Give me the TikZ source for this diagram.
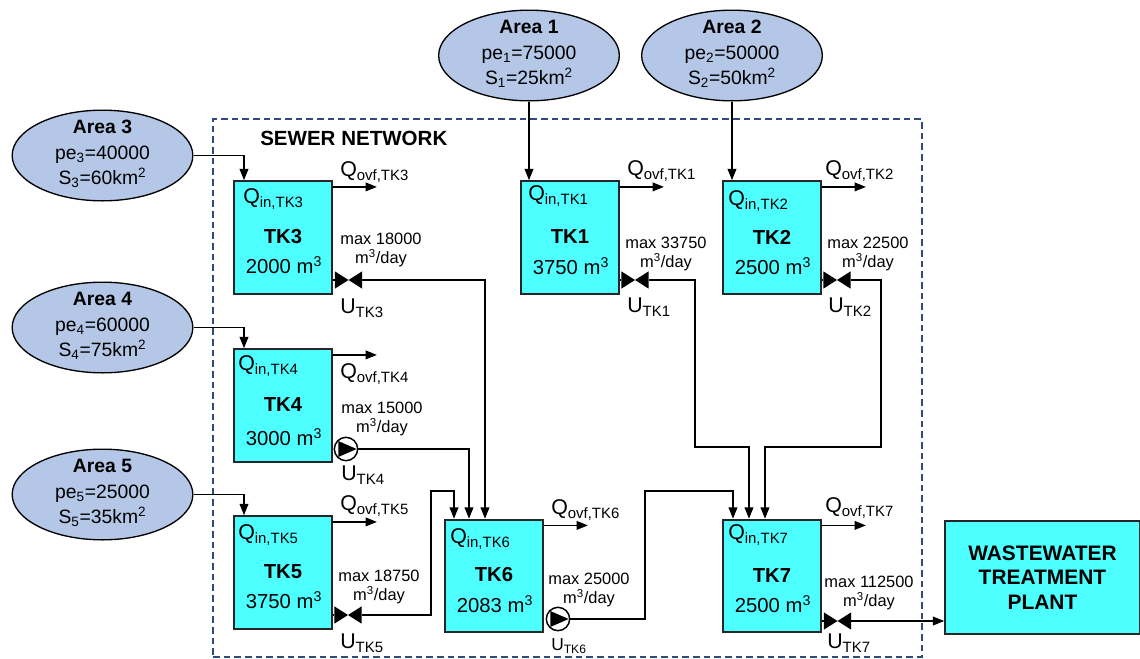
\documentclass[tikz,border=0pt]{standalone}
\usepackage{fontspec}
\setmainfont{Liberation Sans}
\usetikzlibrary{arrows.meta, calc, shapes.geometric}

\newcommand{\subs}[1]{\textsubscript{#1}}
\newcommand{\sups}[1]{\textsuperscript{#1}}

\definecolor{tankcyan}{HTML}{4DFFFF}
\definecolor{areablue}{HTML}{B4C7E7}
\definecolor{netblue}{HTML}{2F4B7C}

\tikzset{
  tank/.style={draw=black!85, line width=1.4pt, fill=tankcyan, inner sep=0pt, minimum width=73.5pt, minimum height=84.5pt},
  area/.style={ellipse, draw=black, line width=1pt, fill=areablue, inner sep=0pt, minimum width=135.5pt, minimum height=68pt},
  areatext/.style={align=center, inner sep=0pt, font=\fontsize{14.5}{19}\selectfont},
  flow/.style={-{Triangle[length=8.5pt,width=6.5pt]}, line width=1.2pt},
  stub/.style={line width=1.2pt},
  valve/.style={inner sep=0pt, minimum width=20.5pt, minimum height=13pt, path picture={
    \fill[black] (path picture bounding box.north west) -- (path picture bounding box.south east)
      -- (path picture bounding box.north east) -- (path picture bounding box.south west) -- cycle;}},
  pump/.style={circle, draw=black, line width=1.1pt, fill=white, inner sep=0pt, minimum size=17.5pt, path picture={
    \fill[black] ($(path picture bounding box.center)+(-5.8pt,6pt)$) -- ($(path picture bounding box.center)+(8pt,0pt)$)
      -- ($(path picture bounding box.center)+(-5.8pt,-6pt)$) -- cycle;}},
  lab/.style={anchor=west, inner sep=0pt, font=\fontsize{16}{18}\selectfont},
  maxlab/.style={align=center, inner sep=0pt, font=\fontsize{12.3}{14}\selectfont},
  tanklab/.style={inner sep=0pt, font=\fontsize{15.2}{18}\selectfont},
}

\begin{document}
\begin{tikzpicture}[x=0.75pt, y=-0.75pt]
  \useasboundingbox (0,0) rectangle (1140,658);
  % Network frame
  \node[draw=netblue, line width=0.8pt, dash pattern=on 5pt off 3pt, inner sep=0pt, minimum width=531.75pt, minimum height=403.5pt] (network) at (567.5,388) {};
  \node[anchor=west, inner sep=0pt, font=\fontsize{15.4}{18}\selectfont\bfseries] (nettitle) at (260,138) {SEWER NETWORK};
  % Areas
  \foreach \nm/\x/\y/\ty/\pe/\sz in {1/529/55.5/54/75000/25, 2/732/55.5/54/50000/50, 3/102.5/155.5/154/40000/60, 4/102.5/327.5/326/60000/75, 5/102.5/494.5/493/25000/35}{
    \node[area] (area\nm) at (\x,\y) {};
    \node[areatext] (areatext\nm) at (\x,\ty) {\textbf{Area \nm}\\pe\subs{\nm}=\pe\\S\subs{\nm}=\sz km\sups{2}};
  }
  % Tanks
  \foreach \nm/\x/\y/\ty/\vy/\vol in {TK3/283/237.5/237/265/2000, TK1/570/237.5/237/266/3750, TK2/772/237.5/237/266/2500, TK4/283/405.5/405/437/3000, TK5/283/572.5/572/600/3750, TK6/494/576/575/604/2083, TK7/772/576/576/604/2500}{
    \node[tank] (\nm) at (\x,\y) {};
    \node[tanklab, font=\fontsize{15.2}{18}\selectfont\bfseries] (name\nm) at (\x,\ty) {\nm};
    \node[tanklab] (vol\nm) at (\x+1,\vy) {\vol{} m\sups{3}};
    \coordinate (ovf\nm) at ($(\nm.north east)+(33pt,-5pt)$);
    \draw[flow] ($(\nm.north east)+(0,-5pt)$) -- (ovf\nm);
  }
  % Plant
  \node[tank, minimum width=146pt, align=center, font=\fontsize{15.7}{18.4}\selectfont\bfseries] (plant) at (1042.5,577.5) {WASTEWATER\\TREATMENT\\PLANT};
  % Inflow labels
  \foreach \nm/\x/\y in {TK3/243/199, TK1/528/196, TK2/728/201, TK4/238/366, TK5/238/535, TK6/450/539, TK7/728/535}{
    \node[lab] (in\nm) at (\x,\y) {Q\subs{in,\nm}};
  }
  % Overflow labels
  \foreach \nm/\x/\y in {TK3/340/172, TK1/627/171, TK2/825/171, TK4/340/374, TK5/340/506, TK6/551/510, TK7/825/508}{
    \node[lab] (qovf\nm) at (\x,\y) {Q\subs{ovf,\nm}};
  }
  % Valves and pumps
  \foreach \nm/\x/\y in {TK3/348.5/280, TK1/635/280, TK2/837/280, TK5/348/615, TK7/837.5/621}{
    \node[valve] (u\nm) at (\x,\y) {};
    \draw[stub] (u\nm.west -| \nm.east) -- (u\nm.west);
  }
  \foreach \nm/\x/\y in {TK4/346/449, TK6/558/619}{
    \node[pump] (u\nm) at (\x,\y) {};
  }
  % Actuator labels
  \foreach \nm/\x/\y in {TK3/340/308, TK1/627/307, TK2/828/307, TK4/341/475, TK5/340/643, TK7/827/643}{
    \node[lab] (ulab\nm) at (\x,\y) {U\subs{\nm}};
  }
  \node[lab, font=\fontsize{13}{15}\selectfont] (ulabTK6) at (551,646) {U\subs{TK6}};
  % Flow limits
  \foreach \nm/\x/\y/\mx in {TK3/381/250/18000, TK1/666/254/33750, TK2/868/254/22500, TK4/382/419/15000, TK5/379/587/18750, TK6/589/590/25000, TK7/869/593/112500}{
    \node[maxlab] (max\nm) at (\x,\y) {max \mx\\m\sups{3}/day};
  }
  % Bends
  \coordinate (bendA) at (431,615);
  \coordinate (bendB) at (431,491);
  \coordinate (bendC) at (645,619);
  \coordinate (bendD) at (645,491);
  \coordinate (bendE) at (695,280);
  \coordinate (bendF) at (695,447);
  \coordinate (bendG) at (881,280);
  \coordinate (bendH) at (881,447);
  % Inflows
  \draw[flow] (area1.south) -- (area1.south |- TK1.north);
  \draw[flow] (area2.south) -- (area2.south |- TK2.north);
  \draw[flow] (area3.east) -| ([xshift=-29.25pt]TK3.north);
  \draw[flow] (area4.east) -| ([xshift=-29.25pt]TK4.north);
  \draw[flow] (area5.east) -| ([xshift=-29.25pt]TK5.north);
  % Links between tanks
  \draw[flow] (uTK3.east) -| ([xshift=-6.75pt]TK6.north);
  \draw[flow] (uTK4.east) -| ([xshift=-18.75pt]TK6.north);
  \draw[flow] (uTK5.east) -- (bendA) -- (bendB) -| ([xshift=-30pt]TK6.north);
  \draw[flow] (uTK6.east) -- (bendC) -- (bendD) -| ([xshift=-29.25pt]TK7.north);
  \draw[flow] (uTK1.east) -- (bendE) -- (bendF) -| ([xshift=-17.25pt]TK7.north);
  \draw[flow] (uTK2.east) -- (bendG) -- (bendH) -| ([xshift=-5.25pt]TK7.north);
  \draw[flow] (uTK7.east) -- (uTK7.east -| plant.west);
\end{tikzpicture}
\end{document}
